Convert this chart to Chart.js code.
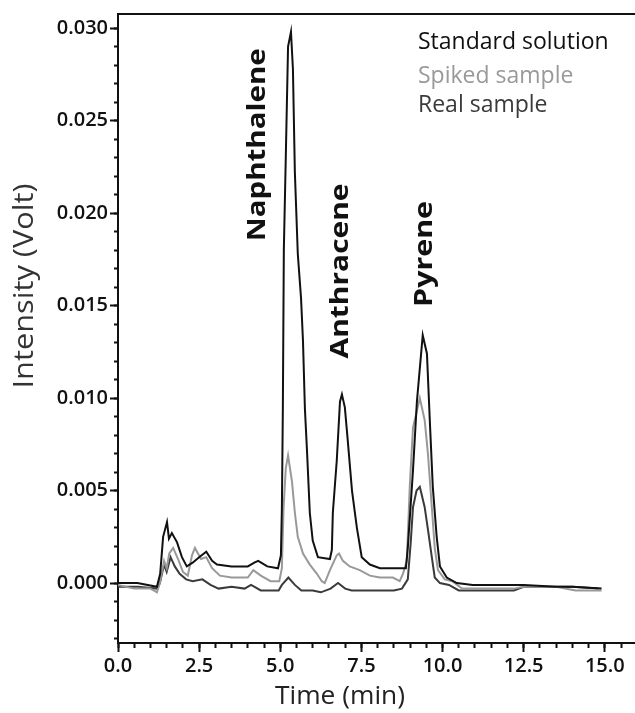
<!DOCTYPE html>
<html lang="en">
<head>
    <meta charset="UTF-8">
    <title>Chromatogram</title>
    <script src="https://cdn.jsdelivr.net/npm/chart.js"></script>
    <style>
        body {
            margin: 0;
            padding: 0;
            background: #fff;
        }
        .chart-box {
            width: 635px;
            height: 713px;
        }
    </style>
</head>
<body>
    <div class="chart-box">
        <canvas id="chromChart"></canvas>
    </div>

    <script>
        // Standard solution
        const stdTime = [0.0, 0.6, 1.2, 1.3, 1.39, 1.51, 1.57, 1.66, 1.82, 1.97, 2.12, 2.3, 2.5, 2.72, 2.9, 3.05,
            3.5, 4.0, 4.2, 4.32, 4.6, 4.93, 5.02, 5.05, 5.08, 5.11, 5.17, 5.24, 5.33, 5.39, 5.45, 5.54, 5.64,
            5.70, 5.76, 5.82, 5.91, 6.00, 6.16, 6.53, 6.59, 6.62, 6.74, 6.84, 6.90, 6.99, 7.08, 7.21, 7.36,
            7.51, 7.76, 8.07, 8.87, 8.93, 9.09, 9.21, 9.39, 9.52, 9.61, 9.70, 9.82, 9.92, 10.13, 10.44, 10.93,
            12.0, 12.5, 13.5, 14.0, 14.9];
        const stdVolt = [0.0000, 0.0000, -0.0002, 0.0005, 0.0025, 0.0033, 0.0024, 0.0027, 0.0022, 0.0014, 0.0009,
            0.0011, 0.0014, 0.0017, 0.0012, 0.0010, 0.0009, 0.0009, 0.0011, 0.0012, 0.0009, 0.0008, 0.0015, 0.0040,
            0.0095, 0.0180, 0.0230, 0.0290, 0.0298, 0.0278, 0.0222, 0.0178, 0.0154, 0.0131, 0.0094, 0.0073, 0.0038,
            0.0023, 0.0014, 0.0013, 0.0018, 0.0038, 0.0066, 0.0098, 0.0102, 0.0095, 0.0077, 0.0050, 0.0030, 0.0014,
            0.0010, 0.0008, 0.0008, 0.0019, 0.0061, 0.0098, 0.0134, 0.0124, 0.0087, 0.0052, 0.0025, 0.0009, 0.0003,
            0.0000, -0.0001, -0.0001, -0.0001, -0.0002, -0.0002, -0.0003];

        // Spiked sample
        const spkTime = [0.0, 0.5, 1.0, 1.2, 1.29, 1.42, 1.5, 1.58, 1.7, 1.85, 2.0, 2.15, 2.28, 2.37, 2.56, 2.72,
            2.9, 3.14, 3.5, 4.0, 4.17, 4.4, 4.7, 4.97, 5.05, 5.1, 5.17, 5.24, 5.36, 5.45, 5.54, 5.70, 5.91, 6.13,
            6.28, 6.37, 6.53, 6.74, 6.81, 6.93, 7.14, 7.45, 7.76, 8.07, 8.47, 8.68, 8.78, 8.90, 8.99, 9.09, 9.30,
            9.45, 9.55, 9.67, 9.76, 9.86, 10.07, 10.3, 10.6, 11.5, 12.2, 12.5, 13.5, 14.1, 14.9];
        const spkVolt = [-0.0001, -0.0003, -0.0003, -0.0005, 0.0000, 0.0012, 0.0008, 0.0016, 0.0019, 0.0013, 0.0006,
            0.0004, 0.0015, 0.0019, 0.0013, 0.0014, 0.0008, 0.0004, 0.0003, 0.0003, 0.0007, 0.0004, 0.0001, 0.0001,
            0.0008, 0.0040, 0.0062, 0.0069, 0.0055, 0.0038, 0.0025, 0.0016, 0.0010, 0.0005, 0.0001, 0.0000, 0.0007,
            0.0015, 0.0016, 0.0012, 0.0009, 0.0007, 0.0004, 0.0003, 0.0003, 0.0001, 0.0005, 0.0012, 0.0052, 0.0084,
            0.0100, 0.0088, 0.0070, 0.0041, 0.0019, 0.0007, 0.0002, 0.0001, -0.0003, -0.0003, -0.0003, -0.0002,
            -0.0002, -0.0004, -0.0004];

        // Real sample
        const realTime = [0.0, 0.6, 1.2, 1.29, 1.42, 1.5, 1.62, 1.75, 1.9, 2.1, 2.3, 2.6, 2.85, 3.1, 3.5, 3.9, 4.1,
            4.4, 4.95, 5.05, 5.25, 5.45, 5.65, 6.0, 6.25, 6.55, 6.78, 7.0, 7.2, 8.5, 8.75, 8.93, 9.02, 9.09, 9.20,
            9.30, 9.45, 9.55, 9.67, 9.76, 9.92, 10.2, 10.5, 11.5, 12.2, 12.5, 14.0, 14.8];
        const realVolt = [-0.0002, -0.0002, -0.0003, 0.0000, 0.0010, 0.0006, 0.0014, 0.0009, 0.0005, 0.0002, 0.0001,
            0.0002, -0.0001, -0.0003, -0.0002, -0.0003, -0.0001, -0.0004, -0.0004, -0.0001, 0.0003, -0.0001, -0.0004,
            -0.0004, -0.0005, -0.0003, 0.0000, -0.0003, -0.0004, -0.0004, -0.0003, 0.0002, 0.0022, 0.0041, 0.0050,
            0.0052, 0.0041, 0.0029, 0.0014, 0.0003, 0.0000, -0.0001, -0.0004, -0.0004, -0.0004, -0.0002, -0.0002,
            -0.0003];

        const seriesNames = ['Standard solution', 'Spiked sample', 'Real sample'];
        const peakNames = ['Naphthalene', 'Anthracene', 'Pyrene'];
        const xTicks = [0, 2.5, 5, 7.5, 10, 12.5, 15];
        const yTicks = [0, 0.005, 0.010, 0.015, 0.020, 0.025, 0.030];

        const X_MIN = 0, X_MAX = 15.9;
        const Y_MIN = -0.00324, Y_MAX = 0.03076;

        const toPoints = (t, v) => t.map((x, i) => ({ x: x, y: v[i] }));

        // where the peak names sit (data units) and how long they are drawn
        const peakLabels = [
            { x: 4.32, y: 0.02369, len: 193 },
            { x: 6.87, y: 0.01687, len: 175 },
            { x: 9.45, y: 0.01779, len: 106 }
        ];

        function minorTicks(step, min, max) {
            const out = [];
            const first = Math.ceil(min / step - 1e-9);
            const last = Math.floor(max / step + 1e-9);
            for (let k = first; k <= last; k++) out.push({ value: +(k * step).toFixed(6) });
            return out;
        }

        function drawFit(ctx, text, x, y, font, color, angle, len, align) {
            ctx.save();
            ctx.font = font;
            ctx.fillStyle = color;
            ctx.textAlign = align || 'center';
            ctx.textBaseline = 'middle';
            ctx.translate(x, y);
            ctx.rotate(angle);
            if (len) {
                const w = ctx.measureText(text).width;
                ctx.scale(len / w, 1);
            }
            ctx.fillText(text, 0, 0);
            ctx.restore();
        }

        const textPlugin = {
            id: 'chromTexts',
            afterDraw(chart) {
                const { ctx, chartArea, scales } = chart;

                peakNames.forEach((name, i) => {
                    const p = peakLabels[i];
                    drawFit(ctx, name, scales.x.getPixelForValue(p.x), scales.y.getPixelForValue(p.y),
                        'bold 25px "Open Sans"', '#111', -Math.PI / 2, p.len);
                });

                // legend, text only
                const lx = chartArea.right - 216;
                const ly = [chartArea.top + 28, chartArea.top + 62, chartArea.top + 91];
                chart.data.datasets.forEach((ds, i) => {
                    drawFit(ctx, ds.label, lx, ly[i], '23px "Open Sans"', ds.borderColor, 0, 0, 'left');
                });

                // axis titles
                drawFit(ctx, 'Intensity (Volt)', 25, chartArea.top + 272, '27px "Open Sans"', '#333', -Math.PI / 2, 205);
                drawFit(ctx, 'Time (min)', 340, 697, '26px "Open Sans"', '#222', 0, 130);
            }
        };

        const tickFont = { family: 'Open Sans', size: 20, weight: '600' };

        new Chart(document.getElementById('chromChart').getContext('2d'), {
            type: 'line',
            data: {
                datasets: [
                    {
                        label: seriesNames[0],
                        data: toPoints(stdTime, stdVolt),
                        borderColor: '#111111',
                        borderWidth: 2,
                        pointRadius: 0,
                        tension: 0
                    },
                    {
                        label: seriesNames[1],
                        data: toPoints(spkTime, spkVolt),
                        borderColor: '#999999',
                        borderWidth: 2,
                        pointRadius: 0,
                        tension: 0
                    },
                    {
                        label: seriesNames[2],
                        data: toPoints(realTime, realVolt),
                        borderColor: '#3a3a3a',
                        borderWidth: 2,
                        pointRadius: 0,
                        tension: 0
                    }
                ]
            },
            options: {
                responsive: true,
                maintainAspectRatio: false,
                animation: false,
                layout: { padding: { left: 0, right: 1, top: 0, bottom: 0 } },
                plugins: {
                    legend: { display: false },
                    tooltip: { enabled: false }
                },
                scales: {
                    x: {
                        type: 'linear',
                        position: 'bottom',
                        weight: 1,
                        min: X_MIN,
                        max: X_MAX,
                        bounds: 'data',
                        afterBuildTicks: s => { s.ticks = xTicks.map(v => ({ value: v })); },
                        afterFit: s => { s.height = 70; },
                        ticks: {
                            autoSkip: false,
                            maxRotation: 0,
                            padding: 2,
                            color: '#111',
                            font: tickFont,
                            callback: v => v.toFixed(1)
                        },
                        grid: { drawOnChartArea: false, tickLength: 9, tickWidth: 2, tickColor: '#111' },
                        border: { color: '#111', width: 2 }
                    },
                    xMinor: {
                        type: 'linear',
                        position: 'bottom',
                        weight: 0,
                        min: X_MIN,
                        max: X_MAX,
                        bounds: 'data',
                        afterBuildTicks: s => { s.ticks = minorTicks(0.5, X_MIN, X_MAX); },
                        afterFit: s => { s.height = 0; },
                        ticks: { display: false },
                        grid: { drawOnChartArea: false, tickLength: 5, tickWidth: 2, tickColor: '#111' },
                        border: { display: false }
                    },
                    xTop: {
                        type: 'linear',
                        position: 'top',
                        min: X_MIN,
                        max: X_MAX,
                        afterFit: s => { s.height = 13; },
                        ticks: { display: false },
                        grid: { display: false },
                        border: { color: '#111', width: 2 }
                    },
                    y: {
                        type: 'linear',
                        position: 'left',
                        weight: 1,
                        min: Y_MIN,
                        max: Y_MAX,
                        bounds: 'data',
                        afterBuildTicks: s => { s.ticks = yTicks.map(v => ({ value: v })); },
                        afterFit: s => { s.width = 118; },
                        ticks: {
                            autoSkip: false,
                            padding: 2,
                            color: '#111',
                            font: tickFont,
                            callback: v => v.toFixed(3)
                        },
                        grid: { drawOnChartArea: false, tickLength: 8, tickWidth: 2, tickColor: '#111' },
                        border: { color: '#111', width: 2 }
                    },
                    yMinor: {
                        type: 'linear',
                        position: 'left',
                        weight: 0,
                        min: Y_MIN,
                        max: Y_MAX,
                        bounds: 'data',
                        afterBuildTicks: s => { s.ticks = minorTicks(0.001, Y_MIN, Y_MAX); },
                        afterFit: s => { s.width = 0; },
                        ticks: { display: false },
                        grid: { drawOnChartArea: false, tickLength: 4, tickWidth: 2, tickColor: '#111' },
                        border: { display: false }
                    }
                }
            },
            plugins: [textPlugin]
        });
    </script>
</body>
</html>
